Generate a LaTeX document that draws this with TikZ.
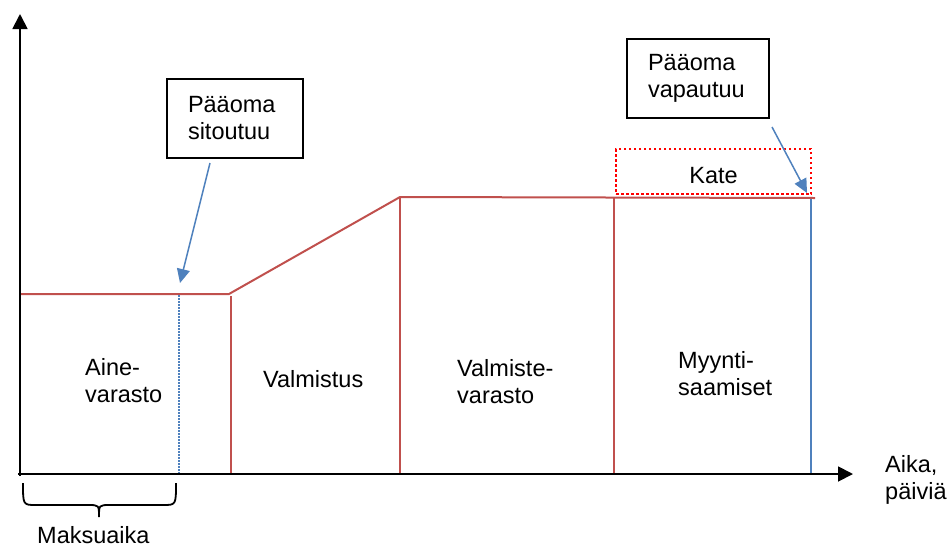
\documentclass[tikz,border=0pt]{standalone}
\usepackage{fontspec}
\setmainfont{Liberation Sans}
\usetikzlibrary{arrows.meta}
\definecolor{flowred}{HTML}{C0504D}
\definecolor{flowblue}{HTML}{4F81BD}
\begin{document}
\begin{tikzpicture}[x=1pt,y=-1pt,
  every node/.style={font=\fontsize{23.5}{27}\selectfont},
  axis/.style={line width=1.8pt,-{Triangle[length=15pt,width=15pt]}},
  redline/.style={draw=flowred,line width=2pt},
  bluearrow/.style={draw=flowblue,line width=1.5pt,-{Triangle[length=14pt,width=13pt]}},
  labelbox/.style={draw,line width=1.1pt,minimum height=79pt,inner xsep=21pt,inner ysep=0pt,align=left},
  lbl/.style={anchor=base west,inner sep=0pt,align=left}]
\useasboundingbox (0,0) rectangle (949,549);
% coordinates
\coordinate (o) at (20,474);
\coordinate (ytop) at (20,14);
\coordinate (xend) at (853,474);
\coordinate (p0) at (20,294);
\coordinate (p1) at (229,294);
\coordinate (p2) at (400,197);
\coordinate (p3) at (815,198);
\coordinate (v1t) at (231,296);
\coordinate (v1b) at (231,474);
\coordinate (v2b) at (400,474);
\coordinate (v3t) at (614,198);
\coordinate (v3b) at (614,474);
\coordinate (bvt) at (811,199);
\coordinate (bvb) at (811,474);
\coordinate (dvt) at (179,295);
\coordinate (dvb) at (179,474);
\coordinate (a1s) at (210,163);
\coordinate (a1e) at (180,283);
\coordinate (a2s) at (772,127);
\coordinate (a2e) at (807,193);
% red profile
\draw[redline] (p0) -- (p1) -- (p2) -- (p3);
\draw[redline] (v1t) -- (v1b);
\draw[redline] (p2) -- (v2b);
\draw[redline] (v3t) -- (v3b);
% blue lines
\draw[draw=flowblue,line width=1.5pt,dash pattern=on 1.5pt off 1.5pt] (dvt) -- (dvb);
\draw[draw=flowblue,line width=2pt] (bvt) -- (bvb);
% axes
\draw[axis] (o) ++(0,2) -- (ytop);
\draw[axis] (o) ++(-2,0) -- (xend);
% boxes
\node[labelbox,text width=94pt] (b1) at (235,118.5) {Pääoma\\sitoutuu};
\node[labelbox,text width=100pt] (b2) at (698,78.5) {Pääoma\\vapautuu};
\node[draw=red,line width=2.5pt,dash pattern=on 2.5pt off 2.5pt,minimum width=195pt,minimum height=45pt,inner sep=0pt,text height=23pt,text depth=0pt] (kate) at (713.5,171.5) {Kate};
% arrows
\draw[bluearrow] (a1s) -- (a1e);
\draw[bluearrow] (a2s) -- (a2e);
% labels
\node[lbl] (aine) at (85,402) {Aine-\\varasto};
\node[lbl] (valm) at (263,387) {Valmistus};
\node[lbl] (valv) at (457,403) {Valmiste-\\varasto};
\node[lbl] (myyn) at (678,395) {Myynti-\\saamiset};
\node[lbl] (aika) at (885,499) {Aika,\\päiviä};
% brace
\draw[line width=1.8pt] (23,483) .. controls (23,505) and (23,505) .. (36,505) -- (88,505) .. controls (99,505) and (99,505) .. (99,517)
  .. controls (99,505) and (99,505) .. (110,505) -- (163,505) .. controls (176,505) and (176,505) .. (176,483);
\node[lbl] (maks) at (37,543) {Maksuaika};
\end{tikzpicture}
\end{document}
